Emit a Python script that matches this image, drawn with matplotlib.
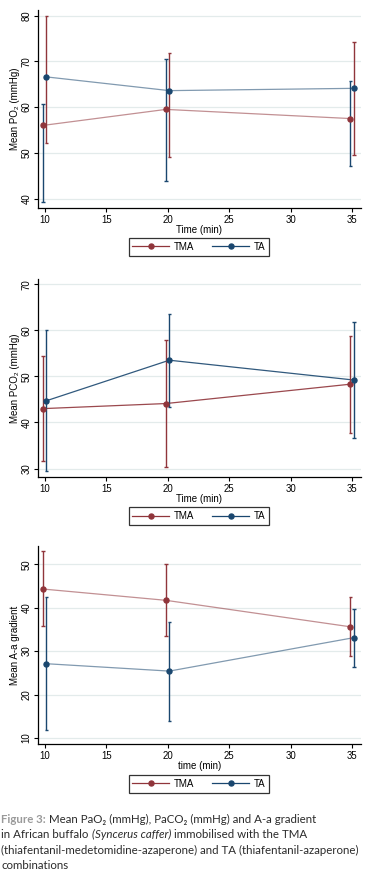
import numpy as np
import matplotlib
matplotlib.use("Agg")
import matplotlib.pyplot as plt
from matplotlib.lines import Line2D

plt.rcParams['font.family'] = ['Liberation Sans', 'DejaVu Sans']

time = np.array([10, 20, 35])

# PaO2
po2_tma = [56.0, 59.5, 57.5]
po2_tma_lo = [52.1, 49.0, 49.5]
po2_tma_hi = [80.0, 71.9, 74.3]
po2_ta = [66.6, 63.6, 64.1]
po2_ta_lo = [39.2, 43.8, 47.1]
po2_ta_hi = [60.7, 70.4, 65.8]

# PaCO2
pco2_tma = [43.0, 44.1, 48.3]
pco2_tma_lo = [31.7, 30.3, 37.7]
pco2_tma_hi = [54.4, 57.8, 58.8]
pco2_ta = [44.7, 53.5, 49.2]
pco2_ta_lo = [29.4, 43.3, 36.7]
pco2_ta_hi = [60.0, 63.5, 61.7]

# A-a gradient
aa_tma = [44.3, 41.7, 35.6]
aa_tma_lo = [35.7, 33.5, 28.8]
aa_tma_hi = [53.0, 50.0, 42.4]
aa_ta = [27.1, 25.4, 33.1]
aa_ta_lo = [11.8, 13.8, 26.4]
aa_ta_hi = [42.4, 36.8, 39.8]

RED = '#90353b'
BLUE = '#1a476f'
off_tma, off_ta = -0.15, 0.13

fig = plt.figure(figsize=(3.79, 8.80), dpi=100)

panels = [
    # (bottom, ylabel, yticks, ylim, tma, ta, xlabel, swap bars, line alpha, legend y)
    (0.7633, 'Mean PO\u2082 (mmHg)', [40, 50, 60, 70, 80], (37.9, 81.3),
     (po2_tma, po2_tma_lo, po2_tma_hi), (po2_ta, po2_ta_lo, po2_ta_hi),
     'Time (min)', True, 0.55, 0.7195),
    (0.4576, 'Mean PCO\u2082 (mmHg)', [30, 40, 50, 60, 70], (28.1, 71.2),
     (pco2_tma, pco2_tma_lo, pco2_tma_hi), (pco2_ta, pco2_ta_lo, pco2_ta_hi),
     'Time (min)', False, 0.9, 0.4135),
    (0.1542, 'Mean A-a gradient', [10, 20, 30, 40, 50], (8.54, 54.3),
     (aa_tma, aa_tma_lo, aa_tma_hi), (aa_ta, aa_ta_lo, aa_ta_hi),
     'time (min)', False, 0.55, 0.1095),
]

for bottom, ylab, yt, ylim, tma, ta, xlab, swap, la, leg_y in panels:
    ax = fig.add_axes([0.0995, bottom, 0.852, 0.2258])
    for (m, lo, hi), col, off, boff in [(tma, RED, off_tma, off_ta if swap else off_tma),
                                          (ta, BLUE, off_ta, off_tma if swap else off_ta)]:
        ax.plot(time + off, m, color=col, lw=0.9, alpha=la, zorder=2)
        ax.plot(time + off, m, 'o', color=col, ms=3.6, zorder=4)
        ax.vlines(time + boff, lo, hi, color=col, lw=1.0, zorder=3)
        ax.hlines(lo, time + boff - 0.14, time + boff + 0.14, color=col, lw=1.0, zorder=3)
        ax.hlines(hi, time + boff - 0.14, time + boff + 0.14, color=col, lw=1.0, zorder=3)

    ax.set_xlim(9.43, 35.68)
    ax.set_ylim(*ylim)
    ax.set_xticks([10, 15, 20, 25, 30, 35])
    ax.set_yticks(yt)
    ax.grid(axis='y', color='#e3ebeb', lw=0.9, zorder=0)
    ax.set_axisbelow(True)
    for s in ['top', 'right']:
        ax.spines[s].set_visible(False)
    for s in ['left', 'bottom']:
        ax.spines[s].set_linewidth(0.9)
    ax.tick_params(axis='both', labelsize=6.9, length=3, width=0.8, pad=1.5)
    plt.setp(ax.get_yticklabels(), rotation=90, va='center')
    ax.set_ylabel(ylab, fontsize=7, labelpad=1)
    ax.set_xlabel(xlab, fontsize=7, labelpad=0.5)

    handles = [Line2D([], [], color=RED, marker='o', ms=3.6, lw=0.9),
               Line2D([], [], color=BLUE, marker='o', ms=3.6, lw=0.9)]
    leg = fig.legend(handles, ['TMA', 'TA'], loc='center', bbox_to_anchor=(0.525, leg_y),
                     ncol=2, fontsize=7, frameon=True, fancybox=False,
                     edgecolor='black', handlelength=3.8, columnspacing=1.8,
                     handletextpad=0.5, borderpad=0.4, borderaxespad=0)
    leg.get_frame().set_linewidth(0.9)

# caption
cap_col = '#2b2b2b'
cap_font = ['Lato', 'DejaVu Sans']
fs = 8.3
t = fig.text(0.003, 1 - 822.5 / 880, 'Figure 3:', color='#9a9a9a', fontsize=fs,
             family=cap_font, fontweight='bold', va='baseline')
fig.add_artist(plt.Annotation(' Mean PaO\u2082 (mmHg), PaCO\u2082 (mmHg) and A-a gradient',
                              xy=(1, 0), xycoords=t, va='bottom', ha='left',
                              color=cap_col, fontsize=fs, family=cap_font))
t2 = fig.text(0.003, 1 - 838 / 880, 'in African buffalo ', color=cap_col, fontsize=fs,
              family=cap_font, va='baseline')
t3 = plt.Annotation('(Syncerus caffer)', xy=(1, 0), xycoords=t2, va='bottom', ha='left',
                    color=cap_col, fontsize=fs, style='italic', family=cap_font)
fig.add_artist(t3)
fig.add_artist(plt.Annotation(' immobilised with the TMA', xy=(1, 0), xycoords=t3,
                              va='bottom', ha='left', color=cap_col, fontsize=fs,
                              family=cap_font))
fig.text(0.003, 1 - 853.5 / 880,
         '(thiafentanil-medetomidine-azaperone) and TA (thiafentanil-azaperone)',
         color=cap_col, fontsize=fs, family=cap_font, va='baseline')
fig.text(0.003, 1 - 869 / 880, 'combinations', color=cap_col, fontsize=fs,
         family=cap_font, va='baseline')

fig.savefig('out.png', dpi=100)
